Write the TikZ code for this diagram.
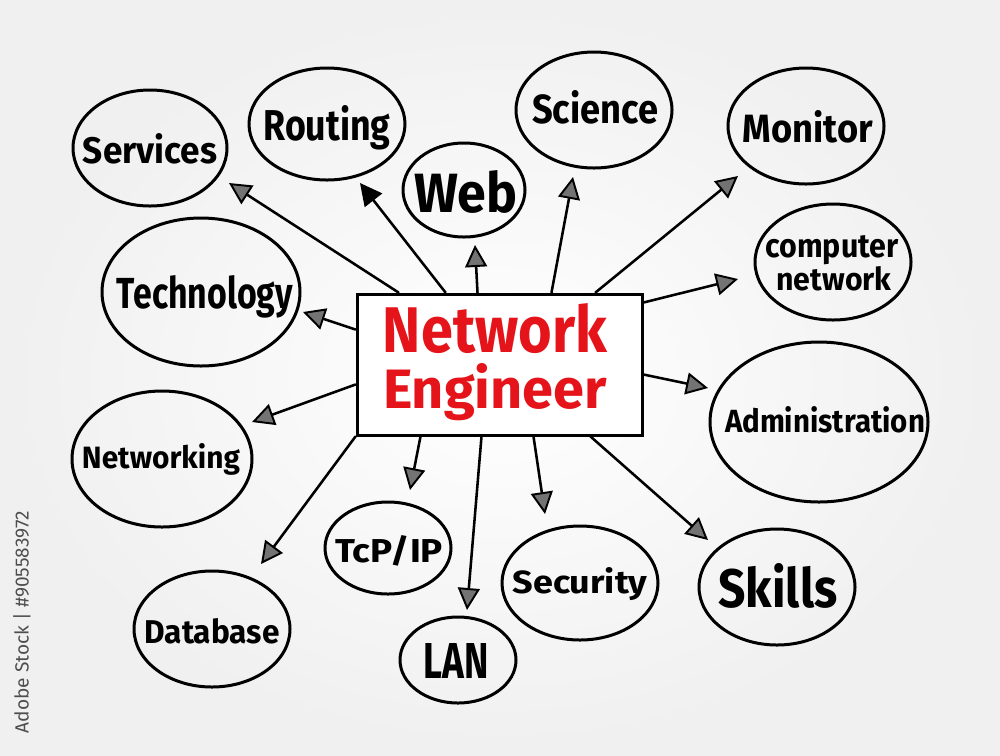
\documentclass[tikz,border=0pt]{standalone}
\usepackage{fontspec}
\setmainfont{Fira Sans}
\usetikzlibrary{shapes.geometric,arrows.meta,calc}
\newlength\px \setlength\px{0.02cm}
\newcommand\lbl[3]{\resizebox{#1\px}{#2\px}{#3}}
\definecolor{redtxt}{RGB}{228,20,26}
\definecolor{wmark}{RGB}{78,78,78}
\begin{document}
\begin{tikzpicture}[x=0.02cm,y=-0.02cm,
  bub/.style={draw=black, ellipse, line width=3\px, inner sep=0pt},
  txt/.style={anchor=base, inner sep=0pt, font=\bfseries},
  arr/.style={line width=1.45pt, line cap=round,
     -{Triangle[length=12.5pt,width=12.5pt,fill=black!55,line width=1.1pt]}},
  arrsolid/.style={line width=1.45pt, line cap=round,
     -{Triangle[length=12.5pt,width=12.5pt,fill=black,line width=1.1pt]}}
]
\useasboundingbox (0,0) rectangle (1000,755);
\shade[inner color=white, outer color=black!6] (0,0) rectangle (1000,755);

% watermark
\node[rotate=90, text=wmark, inner sep=0pt] (wm) at (22,622) {\resizebox{222\px}{!}{Adobe Stock | \#905583972}};

% central box
\node[draw=black, fill=white, line width=3\px, minimum width=285\px, minimum height=141\px, inner sep=0pt] (c) at (499.5,364.5) {};
\node[txt, text=redtxt] (t1) at (495,352) {\lbl{224}{49}{Network}};
\node[txt, text=redtxt] (t2) at (495,408) {\lbl{224}{45}{Engineer}};

% bubbles
\node[bub, minimum width=154\px, minimum height=116\px] (services) at (150,148) {};
\node[bub, minimum width=156\px, minimum height=112\px] (routing) at (327,124) {};
\node[bub, minimum width=122\px, minimum height=94\px] (web) at (464,190) {};
\node[bub, minimum width=156\px, minimum height=116\px] (science) at (594,110) {};
\node[bub, minimum width=156\px, minimum height=116\px] (monitor) at (806,126) {};
\node[bub, minimum width=156\px, minimum height=116\px] (compnet) at (833,262) {};
\node[bub, minimum width=198\px, minimum height=148\px] (technology) at (201,292) {};
\node[bub, minimum width=180\px, minimum height=136\px] (networking) at (162,459) {};
\node[bub, minimum width=218\px, minimum height=160\px] (admin) at (819,422) {};
\node[bub, minimum width=156\px, minimum height=116\px] (skills) at (777,587) {};
\node[bub, minimum width=156\px, minimum height=116\px] (database) at (212,629) {};
\node[bub, minimum width=116\px, minimum height=86\px] (lan) at (458,660) {};
\node[bub, minimum width=126\px, minimum height=92\px] (tcpip) at (388,548) {};
\node[bub, minimum width=156\px, minimum height=114\px] (security) at (580,583) {};

% labels
\node[txt] (lservices) at (150,163) {\lbl{134}{30}{Services}};
\node[txt] (lrouting) at (327,140) {\lbl{127}{35}{Routing}};
\node[txt] (lweb) at (466,212) {\lbl{103}{42}{Web}};
\node[txt] (lscience) at (595,123) {\lbl{126}{33}{Science}};
\node[txt] (lmonitor) at (808,142) {\lbl{130}{32}{Monitor}};
\node[txt] (lcomp) at (832,257) {\lbl{133}{22}{computer}};
\node[txt] (lnet) at (834,290) {\lbl{115}{24}{network}};
\node[txt] (ltech) at (205,308) {\lbl{176}{33}{Technology}};
\node[txt] (lnetw) at (161,468) {\lbl{158}{25}{Networking}};
\node[txt] (ladmin) at (825,432) {\lbl{200}{26}{Administration}};
\node[txt] (lskills) at (778,607) {\lbl{119}{44}{Skills}};
\node[txt] (ldb) at (212,643) {\lbl{135}{25}{Database}};
\node[txt] (llan) at (456,678) {\lbl{65}{35}{LAN}};
\node[txt] (ltcp) at (389,562) {\lbl{108}{27}{TcP/IP}};
\node[txt] (lsec) at (580,593) {\lbl{135}{26}{Security}};

% arrow tips
\coordinate (aservices) at (229,183);
\coordinate (arouting) at (360,183);
\coordinate (aweb) at (475,245);
\coordinate (ascience) at (573,177);
\coordinate (amonitor) at (738,176);
\coordinate (acompnet) at (738,279);
\coordinate (atech) at (303,312);
\coordinate (aadmin) at (708,388);
\coordinate (anetw) at (252,422);
\coordinate (adb) at (261,564);
\coordinate (atcp) at (410,490);
\coordinate (alan) at (467,610);
\coordinate (asec) at (545,514);
\coordinate (askills) at (708,540);

% connectors
\draw[arr] (c.north west) ++(43,0) -- (aservices);
\draw[arrsolid] (c.north west) ++(90,0) -- (arouting);
\draw[arr] (c.north west) ++(122,0) -- (aweb);
\draw[arr] (c.north west) ++(196,0) -- (ascience);
\draw[arr] (c.north west) ++(240,0) -- (amonitor);
\draw[arr] (c.north east) ++(0,10) -- (acompnet);
\draw[arr] (c.north west) ++(0,37) -- (atech);
\draw[arr] (c.north east) ++(0,82) -- (aadmin);
\draw[arr] (c.north west) ++(0,92) -- (anetw);
\draw[arr] (c.south west) -- (adb);
\draw[arr] (c.south west) ++(65,0) -- (atcp);
\draw[arr] (c.south west) ++(126,0) -- (alan);
\draw[arr] (c.south west) ++(178,0) -- (asec);
\draw[arr] (c.south west) ++(235,0) -- (askills);
\end{tikzpicture}
\end{document}
